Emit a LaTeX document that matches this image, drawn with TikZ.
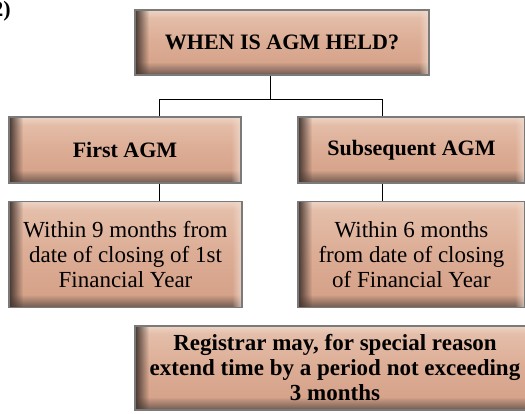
\documentclass[tikz,border=0pt]{standalone}
\usepackage{fontspec}
\setmainfont{Liberation Serif}
\usetikzlibrary{fadings,calc}

\definecolor{tanhi}{HTML}{E6C2AE}
\definecolor{tanmid}{HTML}{DCAC94}
\definecolor{tanlo}{HTML}{D39F86}
\definecolor{tanshadow}{HTML}{6F5A50}
\definecolor{tanedge}{HTML}{45362F}
\definecolor{tanlight}{HTML}{F0DBCF}
\definecolor{boxline}{HTML}{7A7A7A}

\tikzfading[name=fadeup, bottom color=transparent!0, top color=transparent!100]
\tikzfading[name=fadedown, top color=transparent!0, bottom color=transparent!100]
\tikzfading[name=faderight, left color=transparent!0, right color=transparent!100]
\tikzfading[name=fadeleft, left color=transparent!100, right color=transparent!0]

\tikzset{
  bevel/.style={
    draw=boxline, line width=1.3pt, inner sep=0pt, align=center,
    path picture={
      \coordinate (bsw) at (path picture bounding box.south west);
      \coordinate (bne) at (path picture bounding box.north east);
      % body gradient
      \shade[top color=tanhi, bottom color=tanlo, middle color=tanmid]
        (bsw) rectangle (bne);
      % light top rim
      \fill[tanlight, path fading=fadedown, fill opacity=0.7]
        ($(bsw |- bne)$) rectangle ($(bne)+(0,-8pt)$);
      % dark band along the bottom
      \fill[tanshadow, path fading=fadeup]
        (bsw) rectangle ($(bsw -| bne)+(0,13pt)$);
      % dark left edge
      \fill[tanedge, path fading=faderight]
        (bsw) rectangle ($(bsw |- bne)+(14pt,0)$);
      % light right edge
      \fill[tanlight, path fading=fadeleft, fill opacity=0.8]
        ($(bsw -| bne)+(-10pt,0)$) rectangle (bne);
    }},
  headfont/.style={font=\bfseries\fontsize{22}{25}\selectfont},
  bodyfont/.style={font=\fontsize{23}{25}\selectfont},
  notefont/.style={font=\bfseries\fontsize{23}{25}\selectfont},
  link/.style={draw=black, line width=1pt}
}

\begin{document}
\begin{tikzpicture}[x=1pt, y=-1pt]
  \useasboundingbox (0,0) rectangle (525,413);

  \node[anchor=base east, inner sep=0pt, font=\bfseries\fontsize{22}{25}\selectfont] (num) at (11,16) {2)};

  \node[bevel, headfont, minimum width=294pt, minimum height=65pt] (top) at (282,42.5) {WHEN IS AGM HELD?};

  \node[bevel, headfont, minimum width=232pt, minimum height=66pt] (first) at (125,150) {First AGM};
  \node[bevel, headfont, minimum width=227pt, minimum height=66pt] (subseq) at (411.5,150) {Subsequent AGM};

  \node[bevel, bodyfont, minimum width=233pt, minimum height=106pt] (nine) at (125.5,254.5)
    {Within 9 months from\\date of closing of 1st\\Financial Year};
  \node[bevel, bodyfont, minimum width=227pt, minimum height=106pt] (six) at (411.5,254.5)
    {Within 6 months\\from date of closing\\of Financial Year};

  \node[bevel, notefont, minimum width=400pt, minimum height=84pt] (reg) at (335,368)
    {Registrar may, for special reason\\extend time by a period not exceeding\\3 months};

  % junction points of the tree
  \coordinate (jm) at (270,99);
  \coordinate (jl) at (159,99);
  \coordinate (jr) at (382,99);

  \draw[link] (jm |- top.south) -- (jm);
  \draw[link] (jl |- first.north) -- (jl) -- (jr) -- (jr |- subseq.north);
  \draw[link] (jl |- first.south) -- (jl |- nine.north);
  \draw[link] (jr |- subseq.south) -- (jr |- six.north);
\end{tikzpicture}
\end{document}
